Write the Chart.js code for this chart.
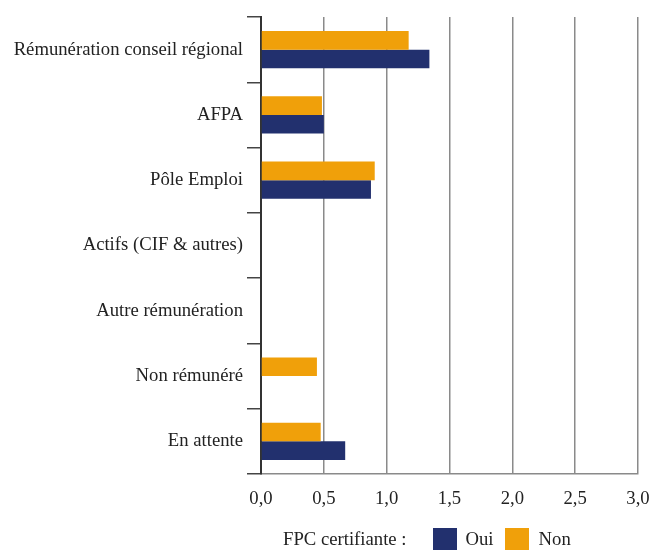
<!DOCTYPE html>
<html>
<head>
<meta charset="utf-8">
<script src="https://cdn.jsdelivr.net/npm/chart.js@4/dist/chart.umd.min.js"></script>
<style>
    html, body { margin: 0; padding: 0; background: #fff; }
    #wrap { position: relative; width: 652px; height: 550px; }
    #legend {
        position: absolute; left: 283px; top: 528px; height: 22px;
        display: flex; align-items: center;
        font-family: 'Liberation Serif', 'Times New Roman', serif; font-size: 18.7px; color: #222;
    }
    #legend .box { width: 24px; height: 22px; display: inline-block; }
</style>
</head>
<body>
<div id="wrap">
    <canvas id="chart" width="652" height="550"></canvas>
    <div id="legend"></div>
</div>
<script>
const categories = [
    'Rémunération conseil régional',
    'AFPA',
    'Pôle Emploi',
    'Actifs (CIF & autres)',
    'Autre rémunération',
    'Non rémunéré',
    'En attente',
];
const ouiValues = [1.34, 0.50, 0.875, 0, 0, 0, 0.67];
const nonValues = [1.175, 0.485, 0.905, 0, 0, 0.445, 0.475];
const xTicks = [0, 0.5, 1, 1.5, 2, 2.5, 3];
const legendTitle = 'FPC certifiante :';

const colorOui = '#22306e';
const colorNon = '#f0a00a';
const fontFamily = "'Liberation Serif', 'Times New Roman', serif";
const fontSize = 18.7;

// legend (Oui first, Non second, as in the reference)
const legendEl = document.getElementById('legend');
legendEl.innerHTML =
    '<span style="margin-right:26px">' + legendTitle + '</span>' +
    '<span class="box" style="background:' + colorOui + '"></span>' +
    '<span style="margin:0 11px 0 9px">Oui</span>' +
    '<span class="box" style="background:' + colorNon + '"></span>' +
    '<span style="margin-left:10px">Non</span>';

const ctx = document.getElementById('chart').getContext('2d');
new Chart(ctx, {
    type: 'bar',
    data: {
        labels: categories,
        datasets: [
            { label: 'Non', data: nonValues, backgroundColor: colorNon },
            { label: 'Oui', data: ouiValues, backgroundColor: colorOui },
        ],
    },
    options: {
        indexAxis: 'y',
        responsive: false,
        animation: false,
        categoryPercentage: 0.57,
        barPercentage: 1,
        layout: { padding: { top: 17, right: 0, bottom: 36, left: 0 } },
        plugins: {
            legend: { display: false },
            tooltip: { enabled: false },
        },
        scales: {
            x: {
                min: 0,
                max: 3,
                afterBuildTicks: (scale) => {
                    scale.ticks = xTicks.map((v) => ({ value: v }));
                },
                afterFit: (scale) => {
                    scale.height = 40;
                    scale.paddingRight = 14;
                },
                grid: { color: '#8a8a8a', lineWidth: 1.5, drawTicks: false },
                border: { display: true, color: '#8a8a8a', width: 1.5 },
                ticks: {
                    padding: 14,
                    color: '#222',
                    font: { family: fontFamily, size: fontSize },
                    callback: (v) => Number(v).toFixed(1).replace('.', ','),
                },
            },
            y: {
                afterFit: (scale) => { scale.width = 261; },
                grid: {
                    offset: true,
                    drawOnChartArea: false,
                    tickLength: 14,
                    color: '#444',
                    lineWidth: 1.5,
                },
                border: { display: true, color: '#333', width: 2 },
                ticks: {
                    padding: 4,
                    color: '#222',
                    font: { family: fontFamily, size: fontSize },
                },
            },
        },
    },
});
</script>
</body>
</html>
